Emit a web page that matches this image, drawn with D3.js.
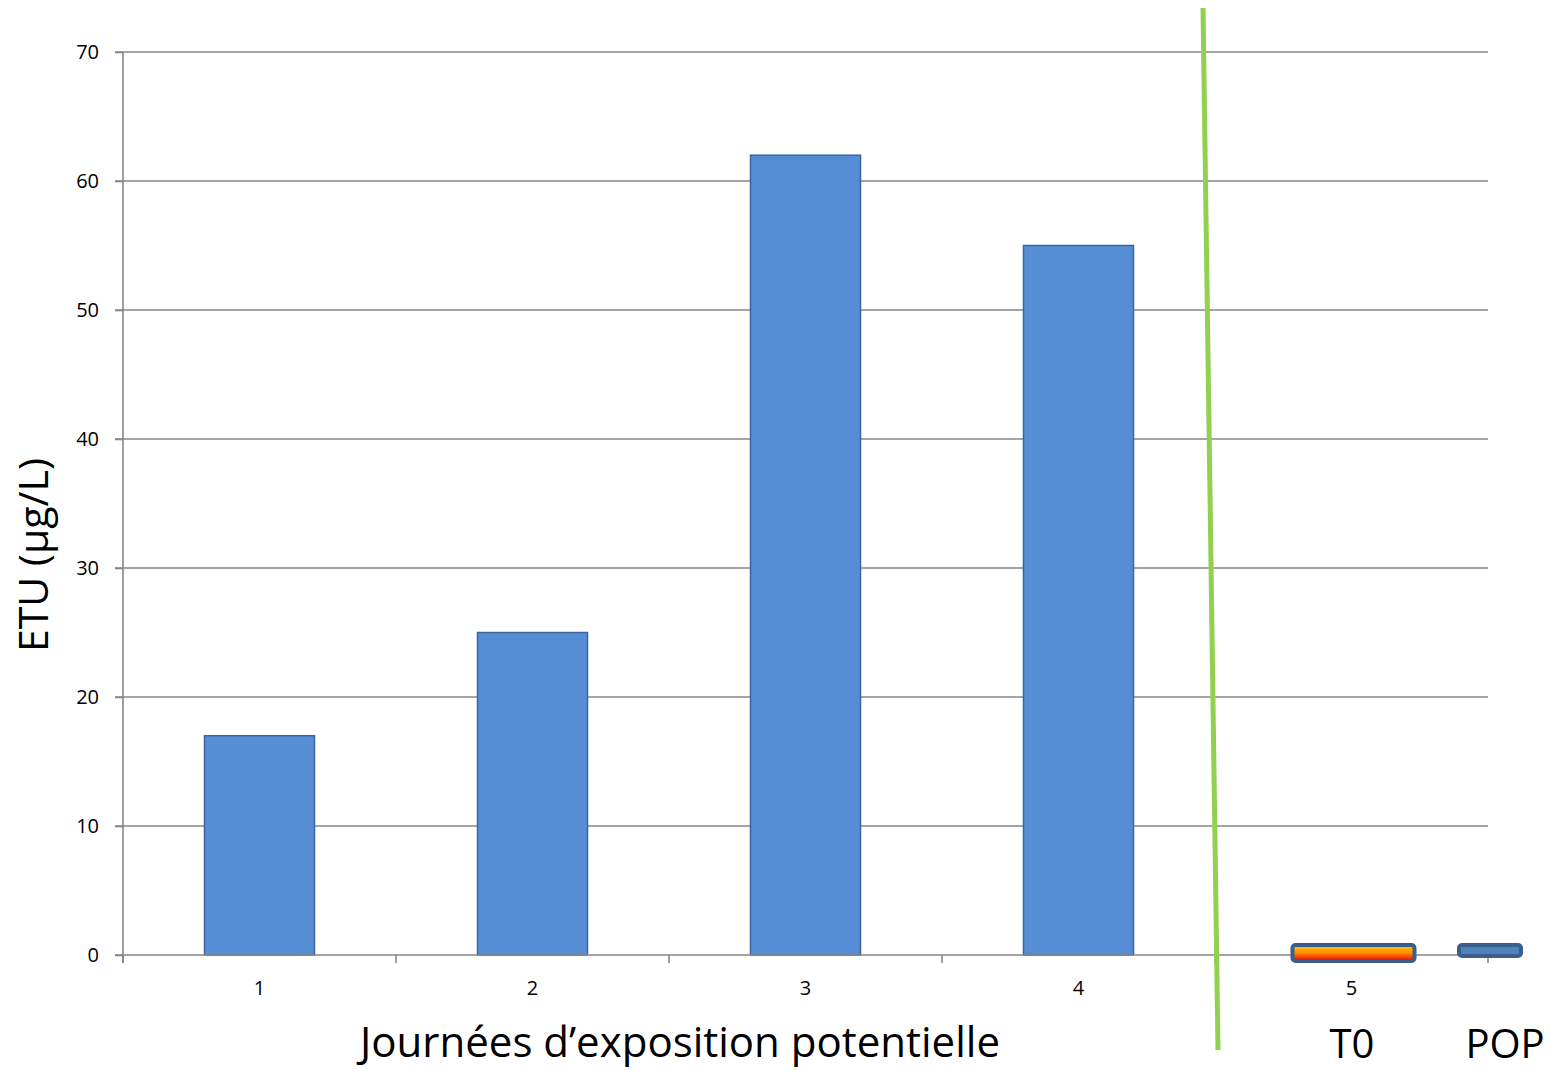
<!DOCTYPE html>
<html><head><meta charset="utf-8">
<script src="https://cdn.jsdelivr.net/npm/d3@7"></script>
<style>body{margin:0;background:#fff}svg{display:block}text{font-family:"Open Sans","Noto Sans",sans-serif}</style>
</head><body>
<script>
const categories = ["1","2","3","4","5"];
const values = [17, 25, 62, 55, 0];
const yTicks = [0,10,20,30,40,50,60,70];
const xTitle = "Journées d’exposition potentielle";
const yTitle = "ETU (µg/L)";
const extraLabels = ["T0","POP"];

const W=1550,H=1070;
const m={l:123,r:62,t:52,b:115};
const svg=d3.select("body").append("svg").attr("width",W).attr("height",H);
const defs=svg.append("defs");
const g=defs.append("linearGradient").attr("id","fire").attr("x1",0).attr("y1",0).attr("x2",0).attr("y2",1);
g.append("stop").attr("offset","0%").attr("stop-color","#ffd200");
g.append("stop").attr("offset","50%").attr("stop-color","#ff8c00");
g.append("stop").attr("offset","100%").attr("stop-color","#e8000a");

const x=d3.scaleBand().domain(categories).range([m.l,W-m.r]).paddingInner(0.597).paddingOuter(0.2985);
const xb=d3.scaleBand().domain(categories).range([m.l,W-m.r]);
const y=d3.scaleLinear().domain([0,70]).range([H-m.b,m.t]);

// grid
svg.append("g").selectAll("line").data(yTicks.filter(d=>d>0)).join("line")
 .attr("x1",m.l-8).attr("x2",W-m.r).attr("y1",d=>y(d)).attr("y2",d=>y(d))
 .attr("stroke","#878787").attr("stroke-width",1.6);

// bars
svg.append("g").selectAll("rect").data(values.slice(0,4)).join("rect")
 .attr("x",(d,i)=>x(categories[i])).attr("width",x.bandwidth())
 .attr("y",d=>y(d)).attr("height",d=>y(0)-y(d))
 .attr("fill","#558ed5").attr("stroke","#3b64a0").attr("stroke-width",1.5);

// y axis
const ya=svg.append("g").attr("transform",`translate(${m.l},0)`)
 .call(d3.axisLeft(y).tickValues(yTicks).tickSize(8).tickPadding(16).tickFormat(d3.format("d")));
ya.select(".domain").attr("stroke","#878787").attr("stroke-width",1.6).attr("d",`M0,${y(70)}V${y(0)+8}`);
ya.selectAll(".tick line").attr("stroke","#878787").attr("stroke-width",1.6);
ya.selectAll("text").attr("font-size",20).attr("fill","#000");

// x axis
const xa=svg.append("g").attr("transform",`translate(0,${y(0)})`)
 .call(d3.axisBottom(xb).tickSize(0).tickPadding(26));
xa.select(".domain").remove();
xa.selectAll("text").attr("font-size",20).attr("fill","#000");
svg.append("line").attr("x1",m.l-8).attr("x2",W-m.r).attr("y1",y(0)).attr("y2",y(0)).attr("stroke","#878787").attr("stroke-width",1.6);
const bounds=categories.map(c=>xb(c)).concat([W-m.r]);
svg.append("g").selectAll("line").data(bounds).join("line")
 .attr("x1",d=>d).attr("x2",d=>d).attr("y1",y(0)).attr("y2",y(0)+8)
 .attr("stroke","#878787").attr("stroke-width",1.6);

// T0 marker
const cx5=xb("5")+xb.bandwidth()/2;
svg.append("rect").attr("x",cx5-59).attr("y",y(0)-10).attr("width",122).attr("height",16)
 .attr("rx",3).attr("fill","url(#fire)").attr("stroke","#3a5f8f").attr("stroke-width",4);
// POP marker
const xp=W-m.r;
svg.append("rect").attr("x",xp-29).attr("y",y(0)-10).attr("width",62).attr("height",11)
 .attr("rx",3).attr("fill","#4f81bd").attr("stroke","#3a5f8f").attr("stroke-width",4);

// green divider
svg.append("line").attr("x1",1203).attr("y1",8).attr("x2",1218).attr("y2",1050)
 .attr("stroke","#92d050").attr("stroke-width",5);

// titles
svg.append("text").attr("x",680).attr("y",1057).attr("text-anchor","middle").attr("font-size",42).text(xTitle);
svg.append("text").attr("x",1352).attr("y",1058).attr("text-anchor","middle").attr("font-size",40).text(extraLabels[0]);
svg.append("text").attr("x",1505).attr("y",1058).attr("text-anchor","middle").attr("font-size",40).text(extraLabels[1]);
svg.append("text").attr("transform","translate(48,555) rotate(-90)").attr("text-anchor","middle").attr("font-size",41).text(yTitle);
</script>
</body></html>
